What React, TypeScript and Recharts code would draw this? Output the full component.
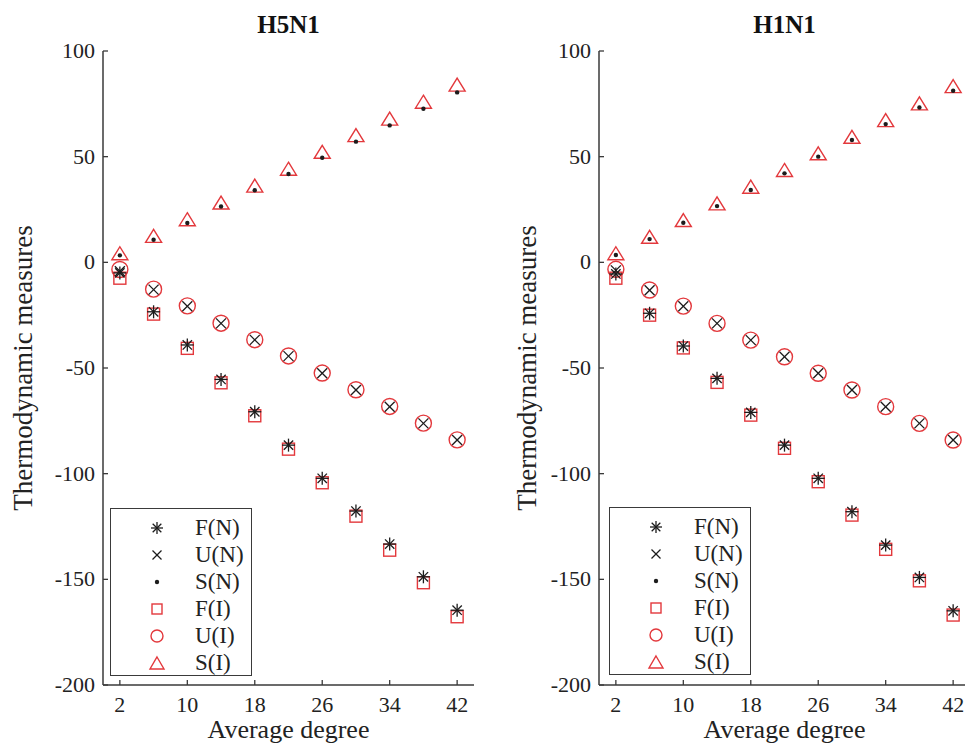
import { Label, Legend, Scatter, ScatterChart, XAxis, YAxis } from 'recharts';

const degrees = [2, 6, 10, 14, 18, 22, 26, 30, 34, 38, 42];
const xTicks = [2, 10, 18, 26, 34, 42];
const yTicks = [-200, -150, -100, -50, 0, 50, 100];

// H5N1
const h5n1FN = [-5.0, -23.4, -39.1, -55.4, -70.7, -86.5, -102.2, -117.7, -133.3, -148.8, -164.6];
const h5n1UN = [-4.2, -12.9, -20.8, -28.9, -36.7, -44.4, -52.5, -60.4, -68.3, -76.2, -84.1];
const h5n1SN = [3.3, 10.7, 18.6, 26.4, 34.1, 41.8, 49.5, 57.1, 64.8, 72.7, 80.4];
const h5n1FI = [-7.5, -24.5, -40.7, -57.0, -72.6, -88.4, -104.3, -120.1, -136.2, -151.6, -167.7];
const h5n1UI = [-3.4, -12.7, -20.6, -28.8, -36.6, -44.3, -52.4, -60.3, -68.2, -76.1, -84.0];
const h5n1SI = [4.3, 12.5, 20.4, 28.3, 36.3, 44.3, 52.3, 60.2, 68.0, 76.0, 84.1];

// H1N1
const h1n1FN = [-5.5, -24.1, -39.6, -54.9, -71.0, -86.5, -102.2, -118.0, -133.8, -149.1, -164.9];
const h1n1UN = [-3.8, -13.2, -20.8, -28.9, -36.8, -44.7, -52.5, -60.4, -68.3, -76.2, -84.1];
const h1n1SN = [3.5, 11.0, 18.7, 26.6, 34.2, 42.1, 50.0, 57.9, 65.4, 73.3, 81.2];
const h1n1FI = [-7.5, -25.0, -40.5, -56.8, -72.3, -88.0, -103.8, -119.6, -135.8, -150.7, -166.9];
const h1n1UI = [-3.3, -13.1, -20.7, -28.9, -36.8, -44.7, -52.5, -60.4, -68.3, -76.2, -84.1];
const h1n1SI = [4.3, 12.1, 20.0, 27.9, 35.8, 43.7, 51.6, 59.4, 67.3, 75.2, 83.4];

const legendOrder = ['F(N)', 'U(N)', 'S(N)', 'F(I)', 'U(I)', 'S(I)'];

const RED = '#e3383c';
const INK = '#1c1c1c';
const AXIS = '#3a3a3a';
const FONT = '"Liberation Serif", "Times New Roman", serif';

const toPoints = (vals: number[]) => degrees.map((x, i) => ({ x, y: vals[i] }));

function Asterisk({ cx, cy, r = 6.5 }: any) {
  const d = r * 0.72;
  return (
    <g stroke={INK} strokeWidth={1.3} fill="none">
      <line x1={cx - r} y1={cy} x2={cx + r} y2={cy} />
      <line x1={cx} y1={cy - r} x2={cx} y2={cy + r} />
      <line x1={cx - d} y1={cy - d} x2={cx + d} y2={cy + d} />
      <line x1={cx - d} y1={cy + d} x2={cx + d} y2={cy - d} />
    </g>
  );
}

function Cross({ cx, cy, r = 5 }: any) {
  return (
    <g stroke={INK} strokeWidth={1.3} fill="none">
      <line x1={cx - r} y1={cy - r} x2={cx + r} y2={cy + r} />
      <line x1={cx - r} y1={cy + r} x2={cx + r} y2={cy - r} />
    </g>
  );
}

function Dot({ cx, cy }: any) {
  return <circle cx={cx} cy={cy} r={2.2} fill={INK} />;
}

function Square({ cx, cy, s = 12 }: any) {
  return <rect x={cx - s / 2} y={cy - s / 2} width={s} height={s} fill="none" stroke={RED} strokeWidth={1.4} />;
}

function Ring({ cx, cy, r = 8 }: any) {
  return <circle cx={cx} cy={cy} r={r} fill="none" stroke={RED} strokeWidth={1.4} />;
}

function Triangle({ cx, cy, w = 16, h = 13 }: any) {
  const pts = `${cx},${cy - h / 2} ${cx + w / 2},${cy + h / 2} ${cx - w / 2},${cy + h / 2}`;
  return <polygon points={pts} fill="none" stroke={RED} strokeWidth={1.4} />;
}

const markers: Record<string, (p: any) => any> = {
  'F(N)': (p) => <Asterisk {...p} />,
  'U(N)': (p) => <Cross {...p} />,
  'S(N)': (p) => <Dot {...p} />,
  'F(I)': (p) => <Square {...p} />,
  'U(I)': (p) => <Ring {...p} />,
  'S(I)': (p) => <Triangle {...p} />,
};

const legendMarkers: Record<string, any> = {
  'F(N)': <Asterisk cx={10} cy={10} r={6} />,
  'U(N)': <Cross cx={10} cy={10} r={4.5} />,
  'S(N)': <Dot cx={10} cy={10} />,
  'F(I)': <Square cx={10} cy={10} s={10} />,
  'U(I)': <Ring cx={10} cy={10} r={6} />,
  'S(I)': <Triangle cx={10} cy={10} w={14} h={12} />,
};

function YTick({ x, y, payload }: any) {
  return (
    <g>
      <line x1={x + 8} x2={x + 13} y1={y} y2={y} stroke={AXIS} strokeWidth={1.3} />
      <text x={x} y={y} dy={7} textAnchor="end" fontSize={22} fill="#222" fontFamily={FONT}>
        {payload.value}
      </text>
    </g>
  );
}

function XTick({ x, y, payload }: any) {
  return (
    <g>
      <line x1={x} x2={x} y1={y - 8} y2={y - 13} stroke={AXIS} strokeWidth={1.3} />
      <text x={x} y={y} dy={19} textAnchor="middle" fontSize={22} fill="#222" fontFamily={FONT}>
        {payload.value}
      </text>
    </g>
  );
}

function LegendBox({ payload }: any) {
  const names = legendOrder.filter((n) => (payload || []).some((e: any) => e.value === n));
  return (
    <div
      style={{
        boxSizing: 'border-box',
        width: '100%',
        height: '100%',
        border: `1.5px solid ${AXIS}`,
        background: '#fff',
        paddingTop: 5,
      }}
    >
      {names.map((n) => (
        <div key={n} style={{ display: 'flex', alignItems: 'center', height: 27 }}>
          <svg width={20} height={20} style={{ marginLeft: 36 }}>
            {legendMarkers[n]}
          </svg>
          <span style={{ marginLeft: 28, fontFamily: FONT, fontSize: 23, color: '#222', lineHeight: '27px' }}>{n}</span>
        </div>
      ))}
    </div>
  );
}

type PanelProps = {
  title: string;
  left: number;
  width: number;
  marginLeft: number;
  marginRight: number;
  yLabelGap: number;
  legendLeft: number;
  legendTop: number;
  fn: number[];
  un: number[];
  sn: number[];
  fi: number[];
  ui: number[];
  si: number[];
};

function ThermoPanel(p: PanelProps) {
  const plotLeft = p.marginLeft + 60;
  const plotWidth = p.width - plotLeft - p.marginRight;
  const series: [string, number[]][] = [
    ['F(I)', p.fi],
    ['U(I)', p.ui],
    ['S(I)', p.si],
    ['F(N)', p.fn],
    ['U(N)', p.un],
    ['S(N)', p.sn],
  ];

  return (
    <div style={{ position: 'absolute', left: p.left, top: 0, width: p.width, height: 745 }}>
      <div
        style={{
          position: 'absolute',
          left: plotLeft,
          width: plotWidth,
          top: 13,
          textAlign: 'center',
          fontFamily: FONT,
          fontWeight: 'bold',
          fontSize: 25,
          lineHeight: '24px',
          color: '#111',
        }}
      >
        {p.title}
      </div>
      <ScatterChart width={p.width} height={745} margin={{ top: 51, right: p.marginRight, bottom: 0, left: p.marginLeft }}>
        <XAxis
          type="number"
          dataKey="x"
          domain={[0, 44]}
          ticks={xTicks}
          interval={0}
          allowDataOverflow
          height={60}
          tickSize={0}
          tickMargin={8}
          tickLine={false}
          tick={<XTick />}
          axisLine={{ stroke: AXIS, strokeWidth: 1.5 }}
        >
          <Label
            content={({ viewBox }: any) => (
              <text
                x={viewBox.x + viewBox.width / 2}
                y={viewBox.y + 53}
                textAnchor="middle"
                fontSize={26}
                fontFamily={FONT}
                fill="#222"
              >
                Average degree
              </text>
            )}
          />
        </XAxis>
        <YAxis
          type="number"
          dataKey="y"
          domain={[-200, 100]}
          ticks={yTicks}
          interval={0}
          allowDataOverflow
          width={60}
          tickSize={0}
          tickMargin={8}
          tickLine={false}
          tick={<YTick />}
          axisLine={{ stroke: AXIS, strokeWidth: 1.5 }}
        >
          <Label
            content={({ viewBox }: any) => {
              const cx = viewBox.x + viewBox.width - p.yLabelGap;
              const cy = viewBox.y + viewBox.height / 2;
              return (
                <text
                  x={cx}
                  y={cy}
                  dy={9}
                  transform={`rotate(-90 ${cx} ${cy})`}
                  textAnchor="middle"
                  fontSize={27}
                  fontFamily={FONT}
                  fill="#222"
                >
                  Thermodynamic measures
                </text>
              );
            }}
          />
        </YAxis>
        <Legend
          layout="vertical"
          align="center"
          verticalAlign="middle"
          content={<LegendBox />}
          wrapperStyle={{ left: p.legendLeft, top: p.legendTop, width: 142, height: 168 }}
        />
        {series.map(([name, vals]) => (
          <Scatter
            key={name}
            name={name}
            data={toPoints(vals)}
            shape={markers[name]}
            isAnimationActive={false}
          />
        ))}
      </ScatterChart>
    </div>
  );
}

export default function App() {
  return (
    <div style={{ position: 'absolute', left: 0, top: 0, width: 965, height: 745, overflow: 'hidden', background: '#fff' }}>
      <ThermoPanel
        title="H5N1"
        left={0}
        width={480}
        marginLeft={43}
        marginRight={6}
        yLabelGap={80}
        legendLeft={110}
        legendTop={508}
        fn={h5n1FN}
        un={h5n1UN}
        sn={h5n1SN}
        fi={h5n1FI}
        ui={h5n1UI}
        si={h5n1SI}
      />
      <ThermoPanel
        title="H1N1"
        left={480}
        width={500}
        marginLeft={59}
        marginRight={10}
        yLabelGap={72}
        legendLeft={129}
        legendTop={507}
        fn={h1n1FN}
        un={h1n1UN}
        sn={h1n1SN}
        fi={h1n1FI}
        ui={h1n1UI}
        si={h1n1SI}
      />
    </div>
  );
}
